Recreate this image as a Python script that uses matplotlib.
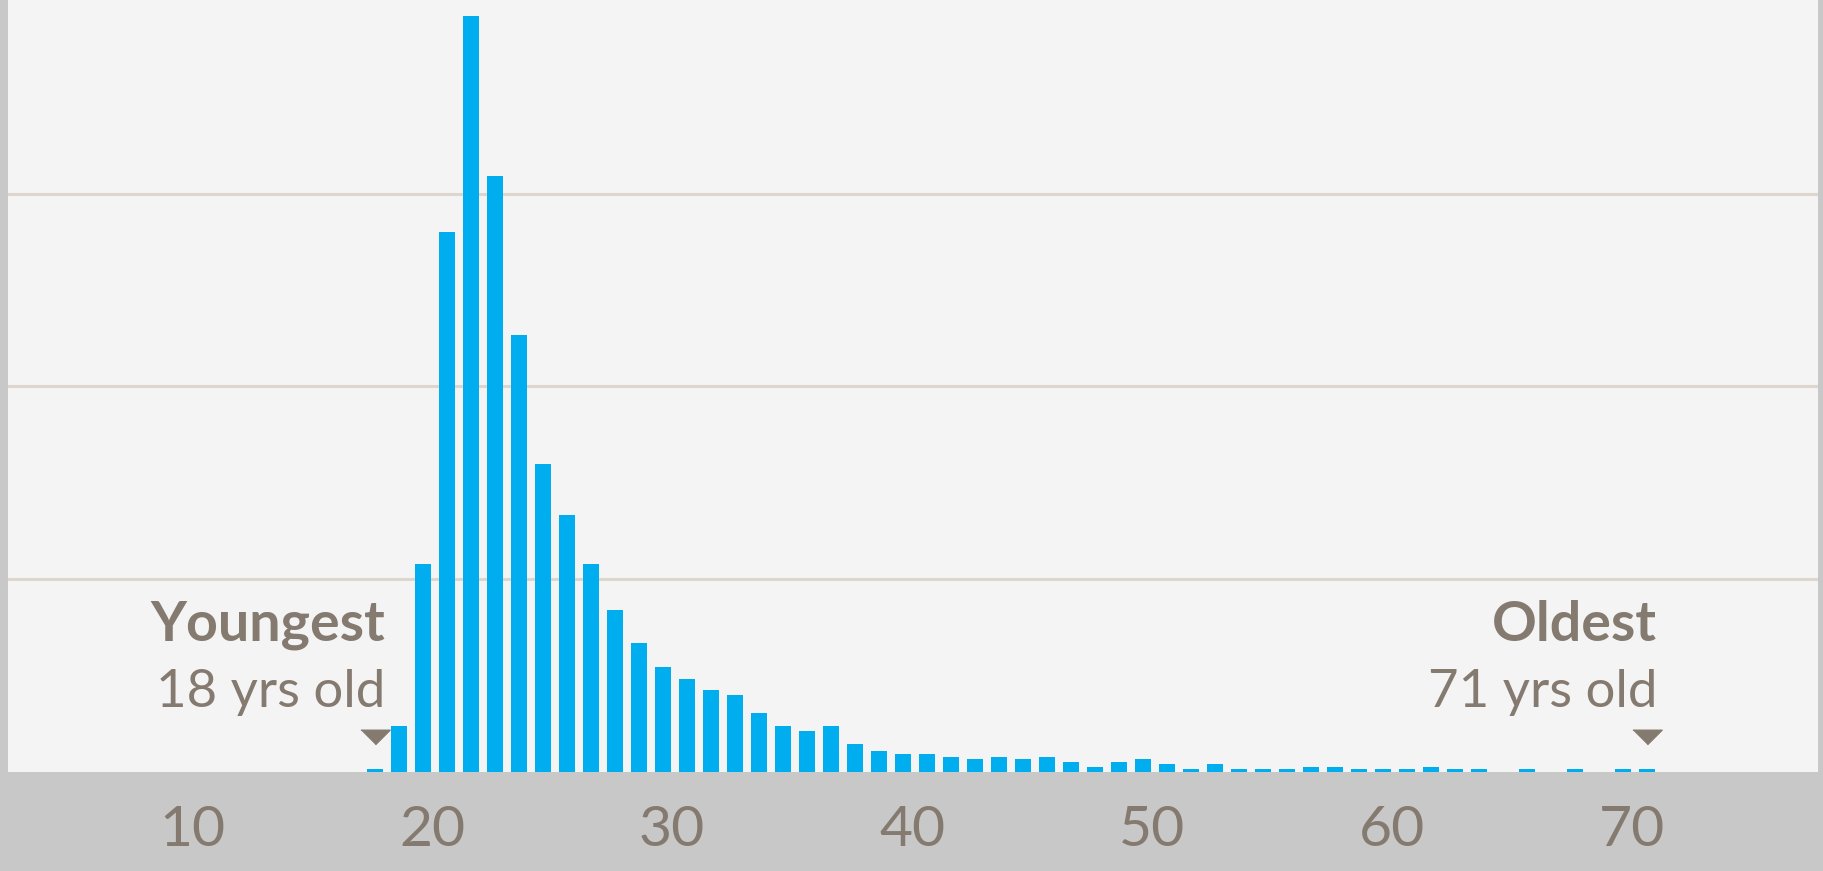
import matplotlib
matplotlib.use("Agg")
import matplotlib.pyplot as plt
import numpy as np

plt.rcParams["font.family"] = ["Lato", "DejaVu Sans"]

# number of people by age
ages = list(range(18, 72))
counts = [1, 18, 81, 210, 294, 232, 170, 120, 100, 81,
          63, 50, 41, 36, 32, 30, 23, 18, 16, 18,
          11, 8, 7, 7, 6, 5, 6, 5, 6, 4,
          2, 4, 5, 3, 1, 3, 1, 1, 1, 2,
          2, 1, 1, 1, 2, 1, 1, 0, 1, 0,
          1, 0, 1, 1]
xticks = [10, 20, 30, 40, 50, 60, 70]
gridlines = [75, 150, 225]

BLUE = "#00aeef"
TEXT = "#857a70"
GRID = "#ddd6cf"
BG = "#f4f4f4"
BAND = "#c8c8c8"

W, H = 1824, 871
fig = plt.figure(figsize=(W / 100, H / 100), dpi=100, facecolor=BAND)
ax = fig.add_axes([8 / W, (H - 772) / H, 1810 / W, 772 / H])
ax.set_facecolor(BG)

x = np.array(ages) - 0.375
ax.bar(x, counts, width=0.667, color=BLUE, zorder=3)

for g in gridlines:
    ax.axhline(g, color=GRID, lw=2.2, zorder=1)

ax.set_xlim(2.333, 77.75)
ax.set_ylim(0, 300.3)
ax.set_yticks([])
ax.set_xticks(xticks)
ax.set_xticklabels([str(t) for t in xticks], fontsize=41, color=TEXT)
ax.tick_params(axis="x", length=0, pad=24)
for s in ax.spines.values():
    s.set_visible(False)

# youngest / oldest markers
nz = [a for a, c in zip(ages, counts) if c > 0]
young, old = nz[0], nz[-1]
tri = [(-1, 0.5), (1, 0.5), (0, -0.5)]
ax.plot([young - 0.375, old - 0.375], [13.6, 13.6], linestyle="none",
        marker=tri, markersize=21, color=TEXT, zorder=4)

for age, label in [(young, "Youngest"), (old, "Oldest")]:
    xr = age - 0.375 + 0.42
    ax.text(xr, 51, label, ha="right", va="baseline", fontsize=40,
            fontweight="bold", color=TEXT)
    ax.text(xr, 25.3, f"{age} yrs old", ha="right", va="baseline",
            fontsize=38, color=TEXT)

fig.savefig("out.png", dpi=100, facecolor=BAND)
